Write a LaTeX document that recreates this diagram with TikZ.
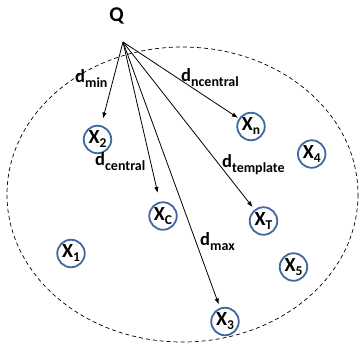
\documentclass[tikz,border=0pt]{standalone}
\usepackage{fontspec}
\setmainfont{Carlito}
\usetikzlibrary{arrows.meta}
\definecolor{cblue}{RGB}{65,105,160}
\newcommand\dsub[1]{\raisebox{-5pt}{\fontsize{14}{14}\selectfont #1}}
\newcommand\xsub[1]{\raisebox{-4pt}{\fontsize{13.5}{13.5}\selectfont #1}}
\begin{document}
\begin{tikzpicture}[x=1pt,y=-1pt,
  pnode/.style={circle,draw=cblue,line width=1.8pt,minimum size=27.5pt,inner sep=0pt,
    font=\bfseries\fontsize{20}{20}\selectfont},
  lbl/.style={anchor=base west,inner sep=0pt,font=\bfseries\fontsize{18.5}{18.5}\selectfont},
  arr/.style={-{Latex[length=6pt,width=4.5pt]},line width=0.8pt}]
\useasboundingbox (0,0) rectangle (359,346);
\draw[line width=0.7pt,dash pattern=on 4pt off 3pt] (182.5,194.5) ellipse [x radius=175.5, y radius=147.5];
\node[anchor=base,inner sep=0pt,font=\bfseries\fontsize{21}{21}\selectfont] (Q) at (116.5,21) {Q};
\coordinate (q0) at (123,42);
\node[pnode] (x2) at (97.5,139.5) {X\xsub{2}};
\node[pnode] (xn) at (251,126.5) {X\xsub{n}};
\node[pnode] (x4) at (311.7,154) {X\xsub{4}};
\node[pnode] (xc) at (163,216) {X\xsub{C}};
\node[pnode] (xt) at (263.5,221) {X\xsub{T}};
\node[pnode] (x1) at (71,253.5) {X\xsub{1}};
\node[pnode] (x5) at (293.5,267) {X\xsub{5}};
\node[pnode] (x3) at (225,321.5) {X\xsub{3}};
\draw[arr,shorten >=7pt] (q0) -- (x2);
\draw[arr,shorten >=9pt] (q0) -- (xc);
\draw[arr,shorten >=3.5pt] (q0) -- (x3);
\draw[arr,shorten >=3pt] (q0) -- (xt);
\draw[arr,shorten >=1pt] (q0) -- (xn);
\node[lbl] (lmin) at (75,82) {d\dsub{min}};
\node[lbl] (lnc) at (181,81) {d\dsub{ncentral}};
\node[lbl] (lc) at (95,165) {d\dsub{central}};
\node[lbl] (lt) at (222,167) {d\dsub{template}};
\node[lbl] (lmax) at (200,245) {d\dsub{max}};
\end{tikzpicture}
\end{document}
